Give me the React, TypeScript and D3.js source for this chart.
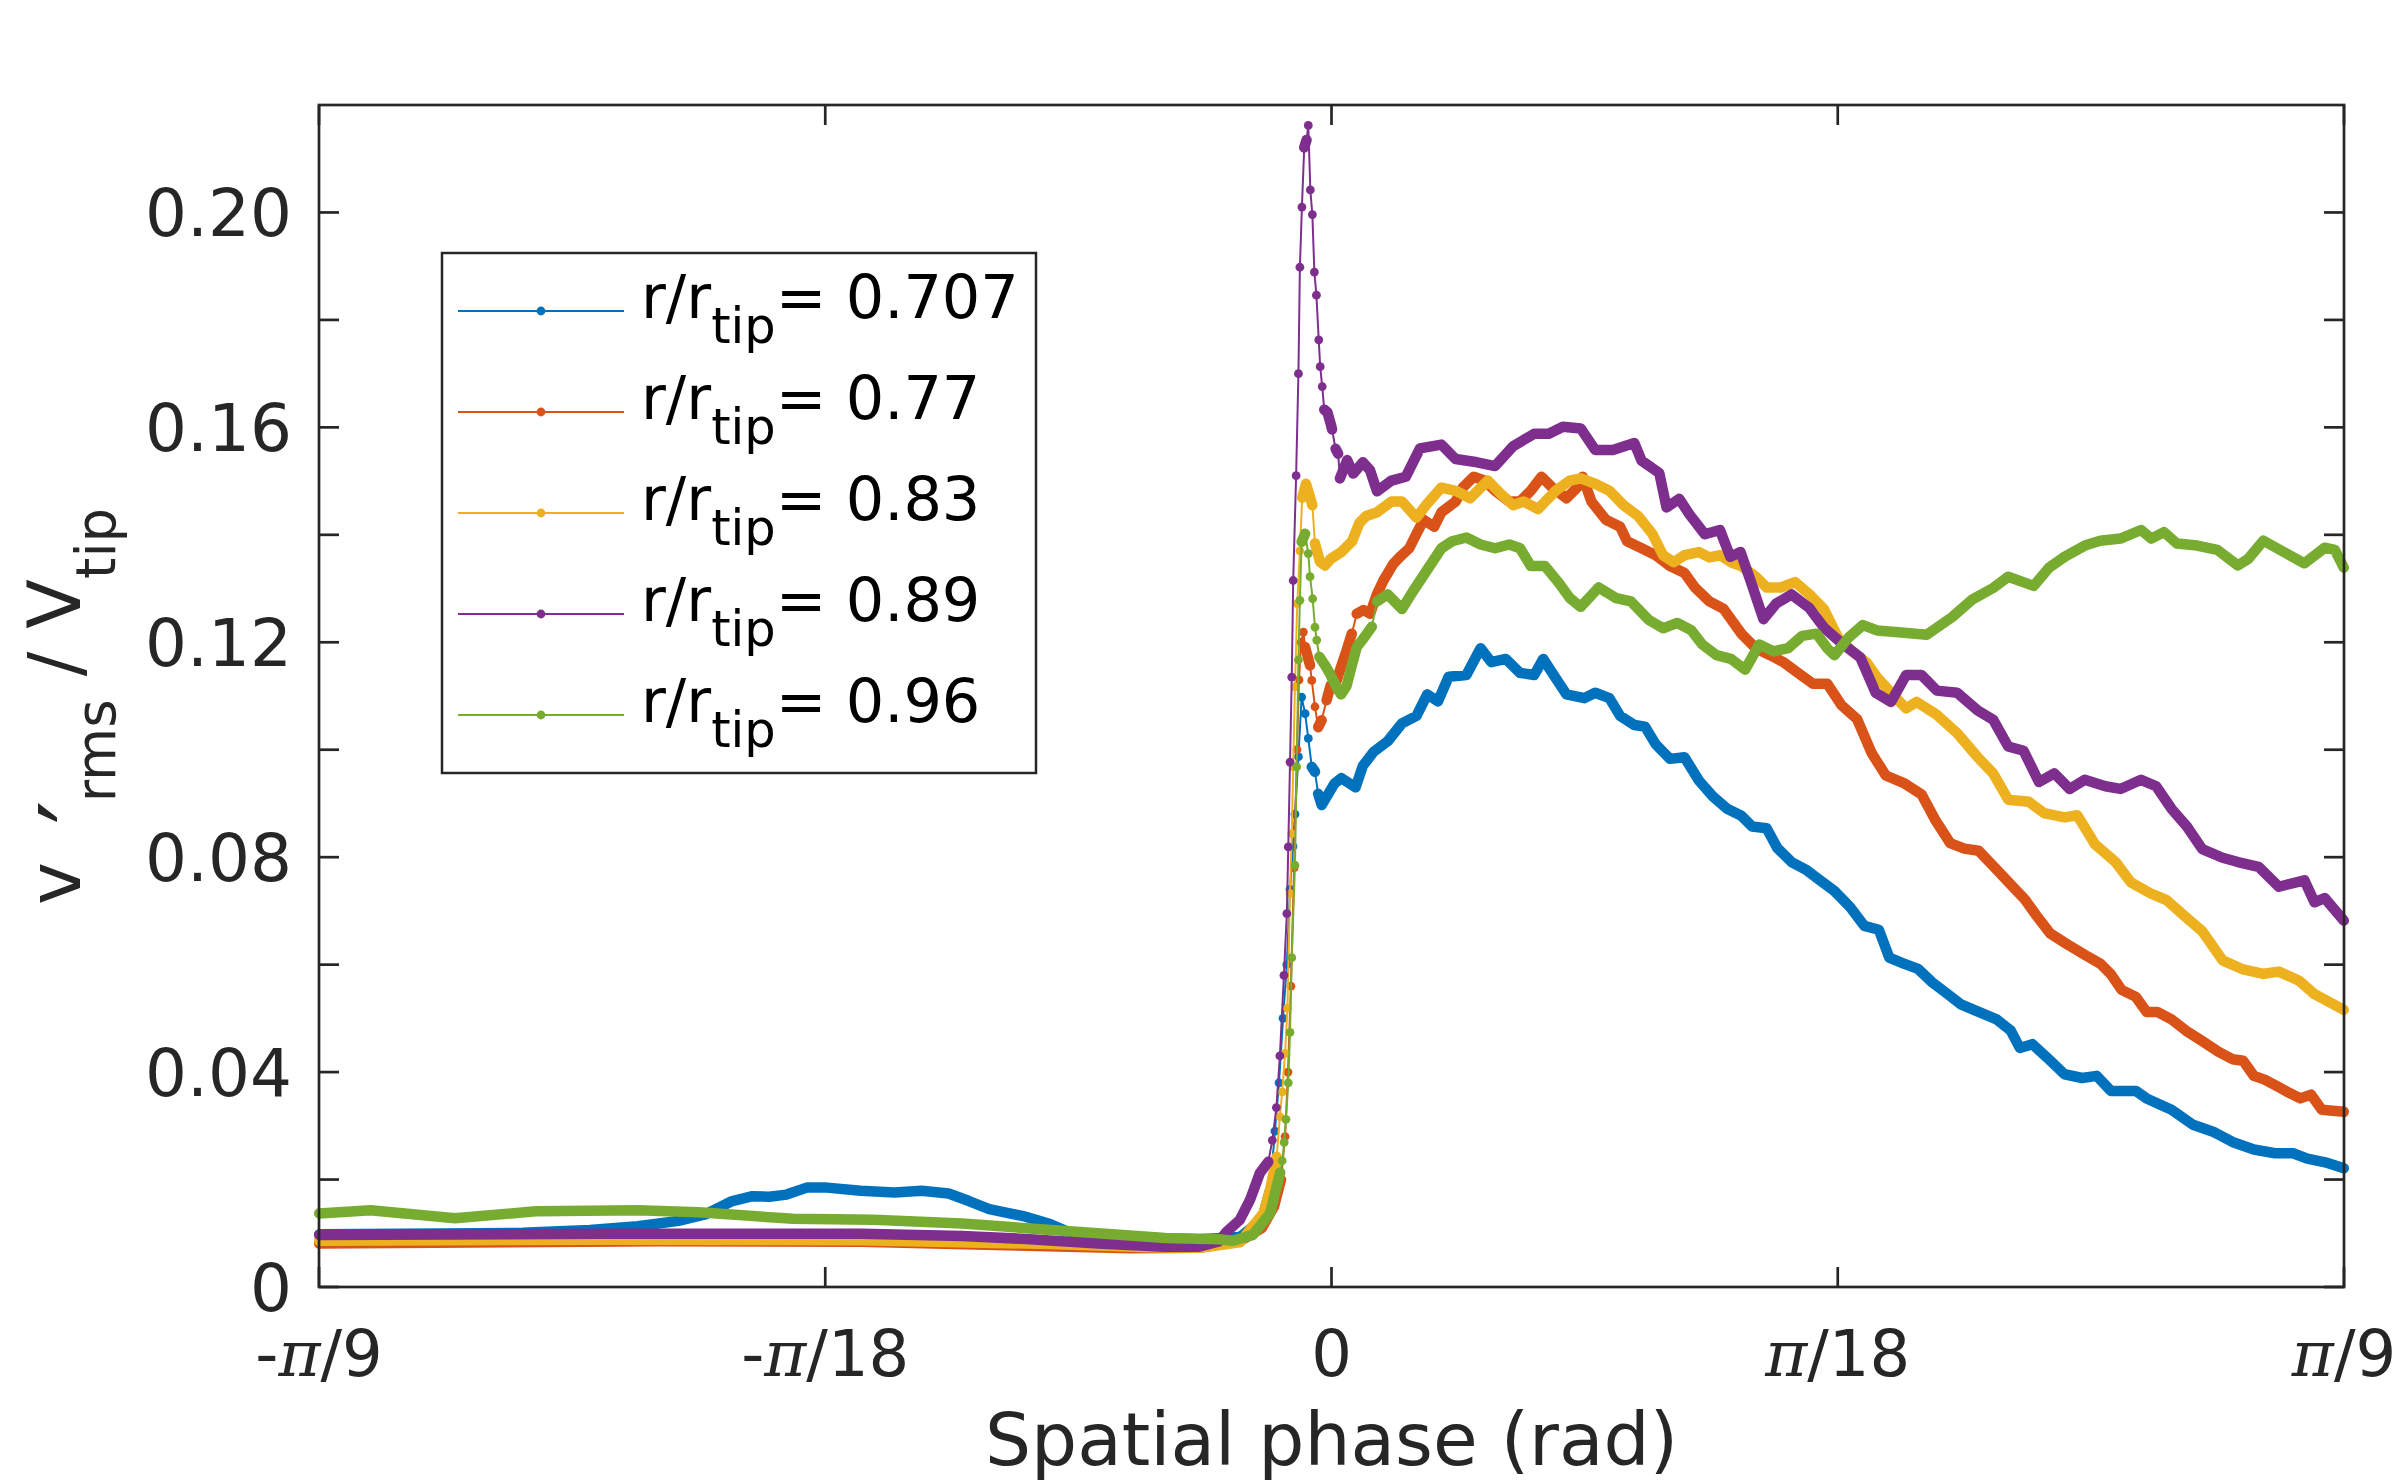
import { useEffect, useRef } from "react";
import * as d3 from "d3";

// spatial phase (rad) vs v'rms / Vtip, one array per radial station
const r0707 = [
  [-0.349, 0.0098], [-0.3212, 0.0099], [-0.2936, 0.01], [-0.2789, 0.0101], [-0.2557, 0.0106],
  [-0.2392, 0.0113], [-0.2252, 0.0123], [-0.2159, 0.0135], [-0.2066, 0.016], [-0.1996, 0.0169],
  [-0.1938, 0.0168], [-0.1879, 0.0172], [-0.1809, 0.0185], [-0.1739, 0.0185], [-0.1623, 0.0179],
  [-0.1506, 0.0176], [-0.1413, 0.0179], [-0.132, 0.0174], [-0.125, 0.016], [-0.118, 0.0145],
  [-0.1063, 0.0132], [-0.097, 0.0117], [-0.09, 0.0101], [-0.069, 0.0092], [-0.0457, 0.0089],
  [-0.0316, 0.0093], [-0.024, 0.0125], [-0.0212, 0.018], [-0.0195, 0.029], [-0.0181, 0.038],
  [-0.0167, 0.05], [-0.0154, 0.06], [-0.0143, 0.074], [-0.0133, 0.082], [-0.0126, 0.088],
  [-0.0114, 0.0987], [-0.0103, 0.1098], [-0.0091, 0.1067], [-0.008, 0.1021], [-0.0068, 0.0968],
  [-0.0057, 0.0959], [-0.0046, 0.0918], [-0.0034, 0.0897], [0.001, 0.0937], [0.0034, 0.0947],
  [0.0083, 0.093], [0.0108, 0.097], [0.0145, 0.0996], [0.0194, 0.1016], [0.0243, 0.1049],
  [0.0293, 0.1063], [0.033, 0.1103], [0.0367, 0.109], [0.0404, 0.1136], [0.0465, 0.1139],
  [0.0514, 0.1189], [0.0551, 0.1163], [0.0601, 0.1169], [0.065, 0.1143], [0.0699, 0.1139],
  [0.073, 0.1169], [0.0761, 0.1143], [0.081, 0.1103], [0.0872, 0.1096], [0.0909, 0.1106],
  [0.0958, 0.1096], [0.0995, 0.1063], [0.1044, 0.1046], [0.1081, 0.1043], [0.1118, 0.101],
  [0.1167, 0.0983], [0.1217, 0.0986], [0.1266, 0.0943], [0.1315, 0.0913], [0.1364, 0.089],
  [0.1413, 0.0877], [0.145, 0.0857], [0.15, 0.0854], [0.1537, 0.0817], [0.1586, 0.0791],
  [0.1635, 0.0777], [0.1684, 0.0757], [0.1734, 0.0737], [0.1788, 0.0707], [0.1837, 0.0672],
  [0.1887, 0.0665], [0.1923, 0.0613], [0.1973, 0.0602], [0.2022, 0.0592], [0.2071, 0.0567],
  [0.212, 0.0547], [0.217, 0.0526], [0.2231, 0.0512], [0.2293, 0.0498], [0.2342, 0.0477],
  [0.2373, 0.0445], [0.2416, 0.0452], [0.2465, 0.0428], [0.2527, 0.0396], [0.2588, 0.0389],
  [0.2638, 0.0393], [0.2687, 0.0365], [0.2773, 0.0365], [0.281, 0.0351], [0.2896, 0.033],
  [0.297, 0.0302], [0.3044, 0.0288], [0.3106, 0.027], [0.318, 0.0256], [0.3253, 0.0249],
  [0.3315, 0.0249], [0.3364, 0.0239], [0.3426, 0.0232], [0.349, 0.0221],
];

const r077 = [
  [-0.349, 0.0081], [-0.2322, 0.0085], [-0.1622, 0.0084], [-0.1157, 0.0078], [-0.0691, 0.0072],
  [-0.0457, 0.0073], [-0.0316, 0.0085], [-0.024, 0.011], [-0.0198, 0.015], [-0.0174, 0.02],
  [-0.016, 0.028], [-0.015, 0.04], [-0.014, 0.056], [-0.0129, 0.078], [-0.0119, 0.1],
  [-0.0112, 0.113], [-0.0105, 0.12], [-0.0097, 0.1219], [-0.0091, 0.1191], [-0.0074, 0.1157],
  [-0.0068, 0.1129], [-0.0057, 0.108], [-0.0046, 0.1042], [-0.0034, 0.1055], [-0.0017, 0.1092],
  [-0.0003, 0.112], [0.0018, 0.1129], [0.0029, 0.1148], [0.0052, 0.1185], [0.007, 0.1216],
  [0.0087, 0.1253], [0.011, 0.126], [0.0133, 0.1253], [0.0157, 0.129], [0.0179, 0.1315],
  [0.0213, 0.1346], [0.0236, 0.1359], [0.0268, 0.1375], [0.0293, 0.1402], [0.0318, 0.1428],
  [0.0354, 0.1415], [0.0379, 0.1442], [0.0428, 0.1462], [0.0453, 0.1488], [0.049, 0.1508],
  [0.0527, 0.1501], [0.0564, 0.1482], [0.0613, 0.1462], [0.065, 0.1462], [0.0687, 0.1482],
  [0.0724, 0.1508], [0.0761, 0.1488], [0.081, 0.1468], [0.0847, 0.1488], [0.0866, 0.1508],
  [0.0896, 0.1462], [0.0946, 0.1428], [0.0995, 0.1415], [0.1019, 0.1388], [0.1069, 0.1375],
  [0.1118, 0.1362], [0.1167, 0.1342], [0.1217, 0.1329], [0.1253, 0.1302], [0.1303, 0.1276],
  [0.1352, 0.1262], [0.1413, 0.1216], [0.1463, 0.1189], [0.1512, 0.1176], [0.1561, 0.1162],
  [0.1611, 0.1142], [0.166, 0.1123], [0.1709, 0.1123], [0.1758, 0.1083], [0.1812, 0.1057],
  [0.1862, 0.0994], [0.1911, 0.0952], [0.1973, 0.0938], [0.2034, 0.0917], [0.2083, 0.0868],
  [0.2133, 0.0826], [0.2182, 0.0816], [0.2231, 0.0812], [0.2281, 0.0784], [0.2342, 0.0749],
  [0.2391, 0.0721], [0.2428, 0.0693], [0.2478, 0.0658], [0.2539, 0.0637], [0.2601, 0.0617],
  [0.265, 0.0602], [0.2687, 0.0582], [0.2724, 0.0553], [0.2773, 0.054], [0.281, 0.0512],
  [0.2847, 0.0512], [0.2896, 0.0498], [0.2946, 0.0477], [0.3007, 0.0456], [0.3057, 0.0438],
  [0.3106, 0.0424], [0.3143, 0.0421], [0.318, 0.0393], [0.3217, 0.0386], [0.3266, 0.0372],
  [0.3303, 0.0361], [0.334, 0.0351], [0.3377, 0.0358], [0.3414, 0.033], [0.349, 0.0326],
];

const r083 = [
  [-0.349, 0.0086], [-0.2522, 0.0088], [-0.1622, 0.0087], [-0.0971, 0.008], [-0.0626, 0.0074],
  [-0.0453, 0.0073], [-0.0316, 0.0083], [-0.0235, 0.0137], [-0.0212, 0.018], [-0.0189, 0.0242],
  [-0.0178, 0.0317], [-0.017, 0.0363], [-0.016, 0.0435], [-0.0152, 0.0519], [-0.0143, 0.0732],
  [-0.0137, 0.0844], [-0.0132, 0.0968], [-0.0126, 0.1117], [-0.0118, 0.1272], [-0.0109, 0.137],
  [-0.0101, 0.1469], [-0.0088, 0.1495], [-0.0074, 0.147], [-0.0066, 0.1455], [-0.0057, 0.1384],
  [-0.004, 0.135], [-0.0022, 0.1343], [-0.0003, 0.1355], [0.0034, 0.1368], [0.0071, 0.1388],
  [0.0096, 0.1422], [0.012, 0.1435], [0.0157, 0.1442], [0.0207, 0.1462], [0.0243, 0.1462],
  [0.0293, 0.1432], [0.033, 0.1458], [0.0379, 0.1488], [0.0428, 0.1482], [0.0478, 0.1468],
  [0.0539, 0.1501], [0.0588, 0.1474], [0.0626, 0.1455], [0.0662, 0.1462], [0.0712, 0.1448],
  [0.0773, 0.1482], [0.0822, 0.1501], [0.0859, 0.1505], [0.0909, 0.1495], [0.0958, 0.1482],
  [0.1007, 0.1455], [0.1057, 0.1435], [0.1106, 0.1402], [0.1143, 0.1362], [0.118, 0.1349],
  [0.1217, 0.1362], [0.1266, 0.1368], [0.1303, 0.1358], [0.134, 0.1362], [0.1377, 0.1349],
  [0.1413, 0.1342], [0.1463, 0.1322], [0.15, 0.1302], [0.1549, 0.1302], [0.1598, 0.1312],
  [0.1648, 0.1289], [0.1697, 0.1262], [0.1746, 0.1209], [0.1795, 0.1183], [0.1845, 0.1162],
  [0.1881, 0.1135], [0.1929, 0.1106], [0.1981, 0.1077], [0.2017, 0.1089], [0.2087, 0.1065],
  [0.2157, 0.1031], [0.2228, 0.0986], [0.2281, 0.0956], [0.2333, 0.0907], [0.2404, 0.0903],
  [0.2457, 0.0882], [0.2527, 0.0874], [0.2571, 0.0878], [0.2632, 0.0824], [0.2703, 0.0791],
  [0.2756, 0.0753], [0.2826, 0.0732], [0.2879, 0.072], [0.294, 0.0691], [0.3002, 0.0662],
  [0.3072, 0.0608], [0.3143, 0.0591], [0.3213, 0.0583], [0.3266, 0.0587], [0.3336, 0.057],
  [0.3389, 0.0545], [0.349, 0.0516],
];

const r089 = [
  [-0.349, 0.0097], [-0.2522, 0.0099], [-0.1622, 0.0099], [-0.1274, 0.0095], [-0.104, 0.0089],
  [-0.0805, 0.0081], [-0.0574, 0.0075], [-0.0457, 0.0075], [-0.0388, 0.0085], [-0.0361, 0.0103],
  [-0.0316, 0.0125], [-0.0281, 0.0162], [-0.0247, 0.0212], [-0.0218, 0.0233], [-0.0204, 0.0273],
  [-0.019, 0.0334], [-0.0178, 0.043], [-0.0164, 0.058], [-0.0154, 0.0695], [-0.0149, 0.0819],
  [-0.0143, 0.0977], [-0.0137, 0.1135], [-0.0132, 0.1315], [-0.0122, 0.151], [-0.0114, 0.17],
  [-0.0109, 0.1898], [-0.0102, 0.201], [-0.0094, 0.2121], [-0.0086, 0.2135], [-0.008, 0.2162],
  [-0.0073, 0.2042], [-0.0066, 0.1996], [-0.0059, 0.1889], [-0.0052, 0.1846], [-0.0044, 0.1763],
  [-0.0039, 0.1713], [-0.0032, 0.1676], [-0.0025, 0.1633], [-0.0014, 0.1628], [-0.0003, 0.1607],
  [0.0002, 0.1596], [0.0014, 0.156], [0.0023, 0.1551], [0.0029, 0.1505], [0.0054, 0.1539],
  [0.0075, 0.1514], [0.0108, 0.1535], [0.0133, 0.152], [0.0157, 0.1481], [0.0207, 0.1501],
  [0.0256, 0.1508], [0.0305, 0.1561], [0.0379, 0.1568], [0.0428, 0.1541], [0.0502, 0.1535],
  [0.0564, 0.1528], [0.0626, 0.1565], [0.0699, 0.1588], [0.0749, 0.1588], [0.0798, 0.1601],
  [0.0859, 0.1598], [0.0909, 0.1558], [0.097, 0.1558], [0.1044, 0.1571], [0.1069, 0.1538],
  [0.113, 0.1515], [0.1155, 0.1451], [0.1199, 0.1467], [0.1234, 0.1438], [0.1287, 0.1401],
  [0.1339, 0.1409], [0.1375, 0.1359], [0.141, 0.1368], [0.1445, 0.1314], [0.1489, 0.1243],
  [0.1533, 0.1272], [0.1586, 0.1289], [0.1647, 0.1264], [0.17, 0.1226], [0.1753, 0.1201],
  [0.1823, 0.1172], [0.1876, 0.1106], [0.1929, 0.1089], [0.1981, 0.1139], [0.2034, 0.1139],
  [0.2087, 0.111], [0.2157, 0.1106], [0.2228, 0.1073], [0.2281, 0.1056], [0.2333, 0.1006],
  [0.2386, 0.0998], [0.2439, 0.094], [0.2492, 0.0956], [0.2545, 0.0927], [0.2597, 0.0944],
  [0.2668, 0.0932], [0.272, 0.0927], [0.2791, 0.0944], [0.2843, 0.0932], [0.2896, 0.089],
  [0.2949, 0.0857], [0.3002, 0.0815], [0.3072, 0.0799], [0.3125, 0.0791], [0.3196, 0.0782],
  [0.3266, 0.0745], [0.3354, 0.0757], [0.3389, 0.0716], [0.3424, 0.0724], [0.349, 0.0682],
];

const r096 = [
  [-0.349, 0.0137], [-0.3313, 0.0143], [-0.3022, 0.0128], [-0.2743, 0.0141], [-0.2391, 0.0143],
  [-0.2181, 0.0139], [-0.1857, 0.0127], [-0.1578, 0.0125], [-0.1274, 0.0118], [-0.104, 0.0109],
  [-0.0805, 0.01], [-0.0574, 0.0091], [-0.0388, 0.0089], [-0.034, 0.0086], [-0.0271, 0.0097],
  [-0.0212, 0.0137], [-0.0177, 0.0213], [-0.017, 0.0235], [-0.0163, 0.0269], [-0.0157, 0.0312],
  [-0.0149, 0.038], [-0.0143, 0.0474], [-0.0137, 0.0613], [-0.0126, 0.0785], [-0.012, 0.0968],
  [-0.0114, 0.1167], [-0.0109, 0.1278], [-0.0103, 0.1387], [-0.0091, 0.1402], [-0.008, 0.1365],
  [-0.0074, 0.1322], [-0.0065, 0.1281], [-0.0057, 0.1228], [-0.0051, 0.1204], [-0.0042, 0.1173],
  [-0.0022, 0.1157], [-0.0005, 0.1141], [0.0018, 0.1116], [0.0033, 0.1103], [0.0052, 0.1119],
  [0.007, 0.1157], [0.0087, 0.1191], [0.011, 0.1207], [0.0139, 0.1229], [0.0157, 0.1276],
  [0.0194, 0.1289], [0.0243, 0.1262], [0.0281, 0.1295], [0.033, 0.1335], [0.0379, 0.1375],
  [0.0416, 0.1388], [0.0465, 0.1395], [0.0514, 0.1382], [0.0564, 0.1375], [0.0613, 0.1382],
  [0.065, 0.1375], [0.0687, 0.1342], [0.0736, 0.1342], [0.0786, 0.1309], [0.0822, 0.1282],
  [0.0859, 0.1266], [0.0921, 0.1302], [0.0982, 0.1282], [0.1032, 0.1276], [0.1093, 0.1242],
  [0.1143, 0.1226], [0.1192, 0.1236], [0.1241, 0.1222], [0.1278, 0.1196], [0.1327, 0.1176],
  [0.1377, 0.1169], [0.1426, 0.1149], [0.1475, 0.1196], [0.1524, 0.1183], [0.1574, 0.1189],
  [0.1623, 0.1212], [0.1672, 0.1216], [0.1709, 0.1189], [0.1734, 0.1176], [0.1783, 0.1209],
  [0.1832, 0.1232], [0.1881, 0.1222], [0.1964, 0.1218], [0.2052, 0.1214], [0.214, 0.1247],
  [0.221, 0.128], [0.2281, 0.1301], [0.2333, 0.1322], [0.2421, 0.1305], [0.2474, 0.1339],
  [0.2527, 0.1359], [0.2597, 0.138], [0.265, 0.1389], [0.272, 0.1393], [0.2791, 0.1409],
  [0.2826, 0.1393], [0.287, 0.1405], [0.2914, 0.1384], [0.2984, 0.138], [0.3054, 0.1372],
  [0.3125, 0.1343], [0.316, 0.1355], [0.3213, 0.1389], [0.3283, 0.1368], [0.3354, 0.1347],
  [0.3424, 0.1376], [0.3459, 0.1372], [0.349, 0.1339],
];

const seriesData = [r0707, r077, r083, r089, r096];
const seriesLabels = ["0.707", "0.77", "0.83", "0.89", "0.96"];
const seriesColors = ["#0072BD", "#D95319", "#EDB120", "#7E2F8E", "#77AC30"];

const xTicks = [-Math.PI / 9, -Math.PI / 18, 0, Math.PI / 18, Math.PI / 9];
const xTickLabels = [["-", "/9"], ["-", "/18"], ["", "0"], ["", "/18"], ["", "/9"]];
const xTickHasPi = [true, true, false, true, true];
const yTicks = [0, 0.02, 0.04, 0.06, 0.08, 0.1, 0.12, 0.14, 0.16, 0.18, 0.2];
const yTickLabels = ["0", "", "0.04", "", "0.08", "", "0.12", "", "0.16", "", "0.20"];

const FONT = "DejaVu Sans";
const INK = "#262626";

const App = () => {
  const ref = useRef(null);

  useEffect(() => {
    const W = 2400;
    const H = 1483;
    const left = 319, right = 2344, top = 105, bottom = 1287;

    const svg = d3.select(ref.current).attr("width", W).attr("height", H);
    svg.selectAll("*").remove();
    svg.append("rect").attr("width", W).attr("height", H).attr("fill", "#fff");

    const x = d3.scaleLinear().domain([-Math.PI / 9, Math.PI / 9]).range([left, right]);
    const y = d3.scaleLinear().domain([0, 0.22]).range([bottom, top]);

    const line = d3
      .line()
      .x((d) => x(d[0]))
      .y((d) => y(d[1]));

    // data
    seriesData.forEach((pts, si) => {
      const color = seriesColors[si];
      const g = svg.append("g");

      // where samples are close together the '.' markers merge into a thick band;
      // only the steep, sparse part of the jump shows separate dots
      const runs = [];
      let run = [pts[0]];
      for (let i = 1; i < pts.length; i++) {
        const dx = Math.abs(x(pts[i][0]) - x(pts[i - 1][0]));
        const dy = Math.abs(y(pts[i][1]) - y(pts[i - 1][1]));
        if (dx >= 6 || dy < Math.max(4 * dx, 6)) run.push(pts[i]);
        else {
          runs.push(run);
          run = [pts[i]];
        }
      }
      runs.push(run);

      runs
        .filter((r) => r.length > 1)
        .forEach((r) => {
          g.append("path")
            .attr("d", line(r))
            .attr("fill", "none")
            .attr("stroke", color)
            .attr("stroke-width", 10.5)
            .attr("stroke-linejoin", "round")
            .attr("stroke-linecap", "round");
        });

      g.append("path")
        .attr("d", line(pts))
        .attr("fill", "none")
        .attr("stroke", color)
        .attr("stroke-width", 2);

      g.selectAll("circle")
        .data(pts)
        .join("circle")
        .attr("cx", (d) => x(d[0]))
        .attr("cy", (d) => y(d[1]))
        .attr("r", 4.4)
        .attr("fill", color);
    });

    // axes box
    svg
      .append("rect")
      .attr("x", left)
      .attr("y", top)
      .attr("width", right - left)
      .attr("height", bottom - top)
      .attr("fill", "none")
      .attr("stroke", INK)
      .attr("stroke-width", 2.7);

    const tickLen = 20;
    const ticks = svg.append("g").attr("stroke", INK).attr("stroke-width", 2.7);
    xTicks.forEach((t) => {
      ticks.append("line").attr("x1", x(t)).attr("x2", x(t)).attr("y1", bottom).attr("y2", bottom - tickLen);
      ticks.append("line").attr("x1", x(t)).attr("x2", x(t)).attr("y1", top).attr("y2", top + tickLen);
    });
    yTicks.forEach((t) => {
      ticks.append("line").attr("x1", left).attr("x2", left + tickLen).attr("y1", y(t)).attr("y2", y(t));
      ticks.append("line").attr("x1", right).attr("x2", right - tickLen).attr("y1", y(t)).attr("y2", y(t));
    });

    // y tick labels
    svg
      .append("g")
      .selectAll("text")
      .data(yTicks)
      .join("text")
      .attr("x", left - 27)
      .attr("y", (d) => y(d))
      .attr("dy", "0.36em")
      .attr("text-anchor", "end")
      .attr("font-family", FONT)
      .attr("font-size", 66)
      .attr("fill", INK)
      .text((d, i) => yTickLabels[i]);

    // x tick labels (pi in math italic)
    xTicks.forEach((t, i) => {
      const txt = svg
        .append("text")
        .attr("x", x(t))
        .attr("y", 1376)
        .attr("text-anchor", "middle")
        .attr("font-family", FONT)
        .attr("font-size", 64)
        .attr("fill", INK);
      const [pre, post] = xTickLabels[i];
      if (pre) txt.append("tspan").text(pre);
      if (xTickHasPi[i])
        txt.append("tspan").attr("font-family", "DejaVu Serif").attr("font-style", "italic").text("π");
      txt.append("tspan").text(post);
    });

    // axis labels
    svg
      .append("text")
      .attr("x", (left + right) / 2)
      .attr("y", 1465)
      .attr("text-anchor", "middle")
      .attr("font-family", FONT)
      .attr("font-size", 72.7)
      .attr("fill", INK)
      .text("Spatial phase (rad)");

    const yl = svg
      .append("text")
      .attr("transform", "translate(80,905) rotate(-90)")
      .attr("font-family", FONT)
      .attr("font-size", 72.7)
      .attr("fill", INK)
      .style("white-space", "pre");
    yl.append("tspan").text("v");
    yl.append("tspan").attr("dx", 38).attr("dy", 34).attr("font-size", 104).text("′");
    yl.append("tspan").attr("font-size", 54.5).attr("dy", 1).attr("dx", -2).text("rms");
    yl.append("tspan").attr("dy", -35).text(" / V");
    yl.append("tspan").attr("font-size", 54.5).attr("dy", 35).text("tip");

    // legend
    const lg = svg.append("g");
    lg.append("rect")
      .attr("x", 442)
      .attr("y", 253)
      .attr("width", 594)
      .attr("height", 520)
      .attr("fill", "#fff")
      .attr("stroke", INK)
      .attr("stroke-width", 2.5);

    seriesLabels.forEach((lab, i) => {
      const ly = 311 + i * 101;
      lg.append("line")
        .attr("x1", 458)
        .attr("x2", 624)
        .attr("y1", ly)
        .attr("y2", ly)
        .attr("stroke", seriesColors[i])
        .attr("stroke-width", 2);
      lg.append("circle").attr("cx", 541).attr("cy", ly).attr("r", 4.4).attr("fill", seriesColors[i]);
      const t = lg
        .append("text")
        .attr("x", 641)
        .attr("y", ly + 7)
        .attr("font-family", FONT)
        .attr("font-size", 60.5)
        .attr("fill", "#000");
      t.append("tspan").text("r/r");
      t.append("tspan").attr("font-size", 49.5).attr("dy", 25).text("tip");
      t.append("tspan").attr("dy", -25).text("= " + lab);
    });
  }, []);

  return <svg ref={ref} style={{ position: "absolute", left: 0, top: 0 }}></svg>;
};

export default App;
